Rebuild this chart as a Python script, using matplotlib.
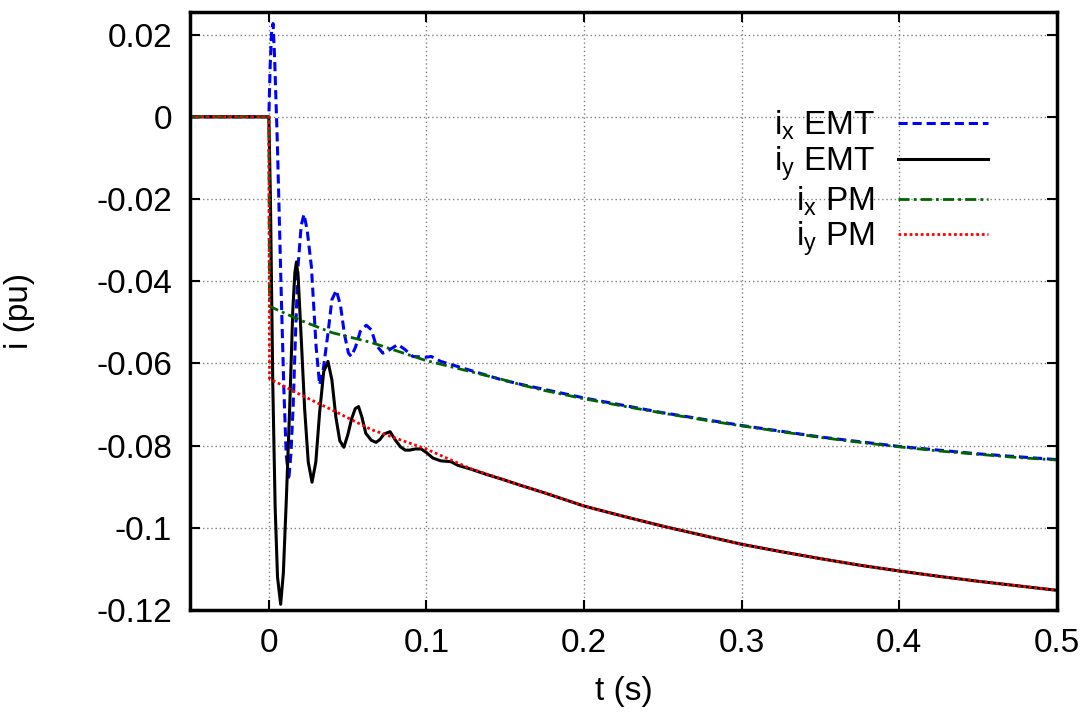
import matplotlib
matplotlib.use('Agg')
import matplotlib.pyplot as plt

t_ix_emt = [-0.05, 0.0, 0.0008, 0.0018, 0.0027, 0.0037, 0.0054, 0.0065, 0.0080, 0.0095,
            0.0110, 0.0126, 0.0140, 0.0154, 0.0170, 0.0185, 0.0205, 0.0223, 0.0243, 0.0270,
            0.0300, 0.0322, 0.0345, 0.0375, 0.0400, 0.0428, 0.0455, 0.0480, 0.0505, 0.0523,
            0.0550, 0.0580, 0.0618, 0.0650, 0.0680, 0.0723, 0.0760, 0.0818, 0.0860, 0.0913,
            0.0997, 0.1030, 0.1090, 0.128, 0.147, 0.160, 0.200, 0.250, 0.300, 0.350,
            0.400, 0.450, 0.500]
ix_emt = [0.0, 0.0, 0.0120, 0.0210, 0.0227, 0.0139, -0.0064, -0.0227, -0.0450, -0.0660,
          -0.0820, -0.0884, -0.0820, -0.0707, -0.0520, -0.0365, -0.0265, -0.0237, -0.0275, -0.0365,
          -0.0560, -0.0652, -0.0615, -0.0527, -0.0445, -0.0422, -0.0460, -0.0530, -0.0575, -0.0583,
          -0.0560, -0.0522, -0.0507, -0.0518, -0.0555, -0.0575, -0.0568, -0.0554, -0.0565, -0.0583,
          -0.0585, -0.0583, -0.0595, -0.0617, -0.0639, -0.0651, -0.0684, -0.0720, -0.0751, -0.0779,
          -0.0802, -0.0820, -0.0834]

t_iy_emt = [-0.05, 0.0, 0.0010, 0.0025, 0.0040, 0.0055, 0.0075, 0.0092, 0.0111, 0.0132,
            0.0152, 0.0165, 0.0175, 0.0186, 0.0203, 0.0227, 0.0250, 0.0274, 0.0298, 0.0322,
            0.0348, 0.0375, 0.0400, 0.0425, 0.0450, 0.0476, 0.0500, 0.0525, 0.0548, 0.0569,
            0.0590, 0.0615, 0.0650, 0.0680, 0.0705, 0.0730, 0.0769, 0.0800, 0.0835, 0.0865,
            0.0892, 0.0930, 0.0966, 0.1000, 0.1040, 0.1090, 0.1155, 0.120, 0.128, 0.138,
            0.149, 0.160, 0.175, 0.200, 0.225, 0.250, 0.275, 0.300, 0.325, 0.350,
            0.375, 0.400, 0.425, 0.450, 0.475, 0.500]
iy_emt = [0.0, 0.0, -0.0200, -0.0650, -0.0950, -0.1120, -0.1186, -0.1110, -0.0930, -0.0710,
          -0.0470, -0.0380, -0.0353, -0.0390, -0.0520, -0.0710, -0.0840, -0.0889, -0.0840, -0.0720,
          -0.0620, -0.0595, -0.0640, -0.0730, -0.0788, -0.0804, -0.0775, -0.0735, -0.0710, -0.0705,
          -0.0730, -0.0770, -0.0787, -0.0792, -0.0785, -0.0772, -0.0766, -0.0785, -0.0803, -0.0811,
          -0.0811, -0.0808, -0.0808, -0.0817, -0.0830, -0.0837, -0.0839, -0.0848, -0.0857, -0.0870,
          -0.0883, -0.0897, -0.0915, -0.0947, -0.0972, -0.0996, -0.1018, -0.1040, -0.1058, -0.1075,
          -0.1091, -0.1105, -0.1118, -0.1130, -0.1141, -0.1152]

t_pm = [-0.05, 0.0, 0.0004, 0.020, 0.040, 0.065, 0.0997, 0.128, 0.149, 0.160, 0.175,
        0.200, 0.225, 0.250, 0.275, 0.300, 0.325, 0.350, 0.375, 0.400, 0.425, 0.450, 0.475, 0.500]
ix_pm = [0.0, 0.0, -0.0461, -0.0495, -0.0525, -0.0549, -0.0593, -0.0620, -0.0640, -0.0652, -0.0666,
         -0.0686, -0.0704, -0.0721, -0.0737, -0.0752, -0.0766, -0.0780, -0.0792, -0.0803, -0.0813,
         -0.0821, -0.0829, -0.0835]
iy_pm = [0.0, 0.0, -0.0637, -0.0676, -0.0713, -0.0761, -0.0808, -0.0856, -0.0883, -0.0897, -0.0915,
         -0.0947, -0.0972, -0.0996, -0.1018, -0.1040, -0.1058, -0.1075, -0.1091, -0.1105, -0.1118,
         -0.1130, -0.1141, -0.1152]

x_ticks = [0, 0.1, 0.2, 0.3, 0.4, 0.5]
x_labels = ['0', '0.1', '0.2', '0.3', '0.4', '0.5']
y_ticks = [0.02, 0, -0.02, -0.04, -0.06, -0.08, -0.1, -0.12]
y_labels = ['0.02', '0', '-0.02', '-0.04', '-0.06', '-0.08', '-0.1', '-0.12']

plt.rcParams['font.family'] = ['Liberation Sans', 'DejaVu Sans']
plt.rcParams['mathtext.fontset'] = 'custom'
plt.rcParams['mathtext.rm'] = 'Liberation Sans'
plt.rcParams['mathtext.it'] = 'Liberation Sans'

fig = plt.figure(figsize=(10.89, 7.16), dpi=100)
ax = fig.add_axes([0.1745, 0.148, 0.7961, 0.8352])

ax.plot(t_ix_emt, ix_emt, color='#0000ff', lw=2.2, ls=(0, (3, 1.6)), label=r'i$_\mathregular{x}$ EMT')
ax.plot(t_iy_emt, iy_emt, color='black', lw=2.2, ls='-', label=r'i$_\mathregular{y}$ EMT')
ax.plot(t_pm, ix_pm, color='#006400', lw=2.0, ls=(0, (4, 1.5, 1, 1.5)), label=r'i$_\mathregular{x}$ PM')
ax.plot(t_pm, iy_pm, color='#ff0000', lw=2.0, ls=(0, (1, 1)), label=r'i$_\mathregular{y}$ PM')

ax.set_xlim(-0.05, 0.5)
ax.set_ylim(-0.12, 0.0255)
ax.set_xticks(x_ticks)
ax.set_xticklabels(x_labels)
ax.set_yticks(y_ticks)
ax.set_yticklabels(y_labels)
ax.tick_params(direction='in', length=7, width=1.5, top=True, right=True,
               labelsize=24, pad=13)
ax.grid(True, color='#808080', ls=(0, (1, 2)), lw=1)
for s in ax.spines.values():
    s.set_linewidth(2.5)

ax.set_xlabel('t (s)', fontsize=24, labelpad=12)
ax.set_ylabel('i (pu)', fontsize=24, labelpad=44)

leg = ax.legend(loc='upper right', bbox_to_anchor=(0.936, 0.86), frameon=False,
                markerfirst=False, fontsize=24, handlelength=2.7, handletextpad=0.7,
                labelspacing=0.05, borderaxespad=0)

fig.savefig('out.png', dpi=100)
